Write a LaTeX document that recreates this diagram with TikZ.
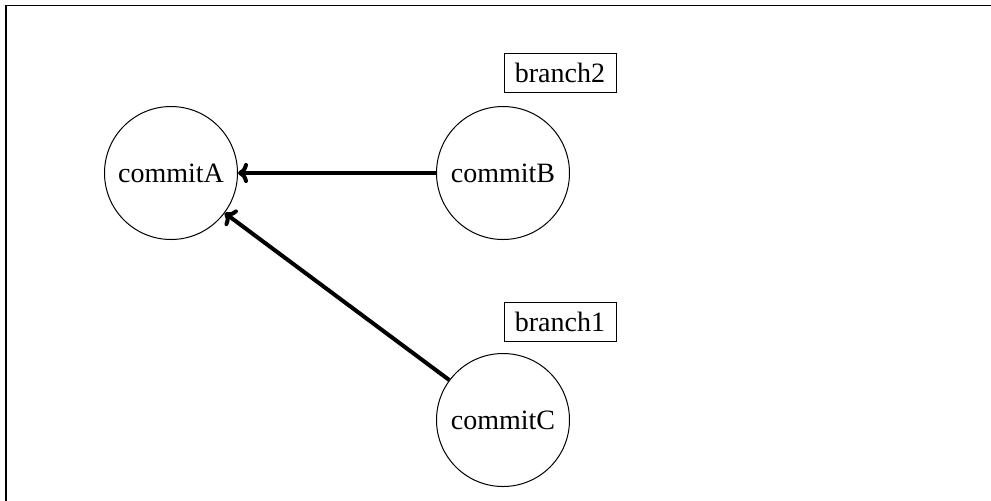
\documentclass[tikz,border=0pt]{standalone}
\usepackage{fontspec}
\setmainfont{Liberation Serif}
\usetikzlibrary{arrows.meta}
\begin{document}
\begin{tikzpicture}[x=0.5pt,y=-0.5pt,
  commit/.style={draw,circle,line width=0.5pt,minimum size=66.5pt,inner sep=0pt,font=\fontsize{14}{16}\selectfont},
  branch/.style={draw,rectangle,line width=0.5pt,minimum width=56pt,minimum height=19.5pt,inner sep=1pt,font=\fontsize{14}{16}\selectfont},
  link/.style={line width=2pt,-{To[length=5pt,width=10pt]}}]
\useasboundingbox (0,0) rectangle (991,500);
\begin{scope}
\clip (0,0) rectangle (991,500);
\draw[line width=0.65pt] (6,5.8) rectangle (1100,600);
\end{scope}
\node[commit] (A) at (171,173) {commitA};
\node[commit] (B) at (503,173) {commitB};
\node[commit] (C) at (503,420) {commitC};
\node[branch] (b2) at (560,73) {branch2};
\node[branch] (b1) at (560,321.5) {branch1};
\draw[link] (B) -- (A);
\draw[link] (C) -- (A);
\end{tikzpicture}
\end{document}
